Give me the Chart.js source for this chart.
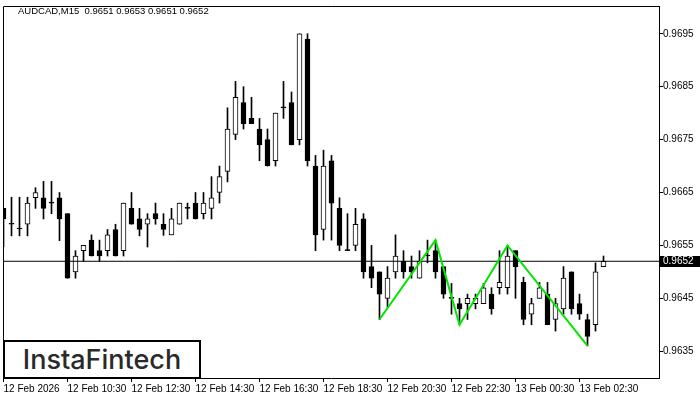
<!DOCTYPE html>
<html>
<head>
<meta charset="utf-8">
<script src="https://cdn.jsdelivr.net/npm/chart.js@4/dist/chart.umd.min.js"></script>
<style>
  html, body { margin: 0; padding: 0; background: #fff; }
  #wrap { position: relative; width: 700px; height: 400px; }
  #title {
    position: absolute; left: 18px; top: 5px;
    font: 9.5px "Liberation Sans", Arial, sans-serif; color: #000; white-space: pre;
  }
  #logo {
    position: absolute; left: 3px; top: 340px; width: 194px; height: 35px;
    border: 2px solid #000; background: #fff;
    display: flex; align-items: center; justify-content: center;
    font: 500 27px Inter, "Liberation Sans", sans-serif; color: #2a2a2a;
  }
</style>
</head>
<body>
<div id="wrap">
  <canvas id="candleChart" width="700" height="400"></canvas>
  <div id="title">AUDCAD,M15  0.9651 0.9653 0.9651 0.9652</div>
  <div id="logo">InstaFintech</div>
</div>
<script>
// AUDCAD M15 candles, index 0 = 12 Feb 08:30
const opens = [
  0.9662, 0.9659, 0.96581, 0.9659, 0.9664, 0.9664, 0.9663, 0.9664, 0.9661, 0.9650,
  0.9654, 0.9656, 0.9654, 0.9654, 0.9658, 0.9654, 0.9662, 0.9660, 0.9659, 0.9661,
  0.9659, 0.9657, 0.9659, 0.9662, 0.9663, 0.9661, 0.9662, 0.9665, 0.9669, 0.9676,
  0.9682, 0.9679, 0.9677, 0.9675, 0.9671, 0.9681, 0.9682, 0.9675, 0.9694, 0.9670,
  0.9658, 0.9671, 0.9662, 0.9654, 0.9655, 0.9660, 0.9651, 0.9650, 0.9645, 0.9650,
  0.9652, 0.9651, 0.96488, 0.9653, 0.9654, 0.9651, 0.9645, 0.9644, 0.9644, 0.9644,
  0.9644, 0.96458, 0.9647, 0.9647, 0.9654, 0.9648, 0.9642, 0.9645, 0.96458, 0.9641,
  0.9643, 0.9650, 0.9644, 0.9641, 0.9640, 0.9651
];
const highs = [
  0.9662, 0.96641, 0.96641, 0.96641, 0.96659, 0.96671, 0.96671, 0.9665, 0.9661, 0.9654,
  0.9655, 0.9657, 0.9656, 0.9658, 0.9659, 0.9663, 0.9665, 0.9662, 0.9661, 0.9663,
  0.9661, 0.9662, 0.9663, 0.9663, 0.9665, 0.9665, 0.9668, 0.9670, 0.9681, 0.9686,
  0.9685, 0.9683, 0.9679, 0.9677, 0.9680, 0.9686, 0.9684, 0.9695, 0.9695, 0.9672,
  0.9673, 0.9672, 0.9664, 0.9661, 0.9662, 0.9661, 0.9655, 0.9650, 0.9651, 0.9657,
  0.9654, 0.9653, 0.9654, 0.9656, 0.9656, 0.9651, 0.96478, 0.9645, 0.96458, 0.96458,
  0.96478, 0.9647, 0.9654, 0.9655, 0.9654, 0.9649, 0.9645, 0.9648, 0.9648, 0.9645,
  0.9651, 0.9650, 0.96458, 0.9642, 0.96517, 0.9653
];
const lows = [
  0.96547, 0.96568, 0.96568, 0.96568, 0.9662, 0.9660, 0.9661, 0.96559, 0.96488, 0.96488,
  0.9652, 0.9653, 0.9652, 0.9653, 0.9653, 0.9653, 0.9659, 0.96568, 0.96547, 0.9659,
  0.96569, 0.9657, 0.9659, 0.9660, 0.9660, 0.9660, 0.9660, 0.9663, 0.9667, 0.9675,
  0.9677, 0.9678, 0.9671, 0.9670, 0.9670, 0.9679, 0.9674, 0.9674, 0.9670, 0.9654,
  0.9656, 0.9656, 0.9654, 0.9654, 0.9654, 0.96488, 0.9647, 0.9641, 0.96433, 0.96488,
  0.96488, 0.96488, 0.96488, 0.96517, 0.96488, 0.9645, 0.9642, 0.9640, 0.9641, 0.9643,
  0.9644, 0.9642, 0.96458, 0.96458, 0.9645, 0.9640, 0.9640, 0.9645, 0.9640, 0.96388,
  0.9642, 0.9642, 0.9641, 0.9636, 0.96388, 0.9651
];
const closes = [
  0.9660, 0.9659, 0.96581, 0.9663, 0.9665, 0.9662, 0.9663, 0.9660, 0.96488, 0.9653,
  0.9655, 0.9653, 0.9653, 0.9657, 0.9653, 0.9663, 0.9659, 0.9658, 0.9660, 0.9660,
  0.9658, 0.9660, 0.9663, 0.9662, 0.9660, 0.9663, 0.9664, 0.9668, 0.9677, 0.9683,
  0.9678, 0.9678, 0.9674, 0.9670, 0.9680, 0.9681, 0.9674, 0.9695, 0.9671, 0.9657,
  0.9670, 0.9663, 0.9655, 0.9654, 0.9659, 0.9650, 0.96488, 0.96458, 0.96488, 0.9653,
  0.9650, 0.9650, 0.9652, 0.9653, 0.9650, 0.96458, 0.9645, 0.9643, 0.9645, 0.9645,
  0.9647, 0.9643, 0.9648, 0.9653, 0.9651, 0.9641, 0.9644, 0.9647, 0.9640, 0.9644,
  0.96488, 0.9643, 0.9642, 0.96378, 0.9650, 0.9652
];

const timeLabels = [
  "12 Feb 2026", "12 Feb 10:30", "12 Feb 12:30", "12 Feb 14:30", "12 Feb 16:30",
  "12 Feb 18:30", "12 Feb 20:30", "12 Feb 22:30", "13 Feb 00:30", "13 Feb 02:30"
];
const timeTickIdx = [0, 8, 16, 24, 32, 40, 48, 56, 64, 72];
const priceTicks = [0.9635, 0.9645, 0.9655, 0.9665, 0.9675, 0.9685, 0.9695];

// triple bottom pattern pivots
const patternIdx = [47, 54, 57, 63, 73];
const patternVals = [lows[47], highs[54], lows[57], highs[63], lows[73]];

const lastClose = closes[closes.length - 1];

const bodies = opens.map((o, i) => ({ x: i, y: [Math.min(o, closes[i]), Math.max(o, closes[i])] }));
const wicks = lows.map((l, i) => ({ x: i, y: [l, highs[i]] }));
const bodyFill = opens.map((o, i) => (closes[i] > o ? "#ffffff" : "#000000"));

// frame on left/top, price tag on the right axis
const framePlugin = {
  id: "frame",
  afterDraw(chart) {
    const { ctx, chartArea: a, scales } = chart;
    ctx.save();
    ctx.strokeStyle = "#000";
    ctx.lineWidth = 1;
    ctx.beginPath();
    ctx.moveTo(a.left + 0.5, a.bottom);
    ctx.lineTo(a.left + 0.5, a.top + 0.5);
    ctx.lineTo(a.right, a.top + 0.5);
    ctx.stroke();

    const y = Math.round(scales.y.getPixelForValue(lastClose));
    ctx.fillStyle = "#000";
    ctx.fillRect(a.right + 1, y - 5, 40, 11);
    ctx.fillStyle = "#fff";
    ctx.font = '10px "Liberation Sans", Arial, sans-serif';
    ctx.textBaseline = "middle";
    ctx.fillText(lastClose.toFixed(4), a.right + 4, y + 0.5);
    ctx.restore();
  }
};

Chart.defaults.font.family = '"Liberation Sans", Arial, sans-serif';
Chart.defaults.font.size = 10;
Chart.defaults.color = "#000";

const ctx = document.getElementById("candleChart").getContext("2d");

new Chart(ctx, {
  type: "bar",
  data: {
    datasets: [
      {
        type: "line",
        data: patternIdx.map((x, k) => ({ x: x, y: patternVals[k] })),
        borderColor: "#00e600",
        borderWidth: 2,
        pointRadius: 0,
        tension: 0,
        order: -2
      },
      {
        type: "line",
        data: [{ x: -1, y: lastClose }, { x: 90, y: lastClose }],
        borderColor: "#000",
        borderWidth: 1,
        pointRadius: 0,
        order: -1
      },
      {
        data: bodies,
        backgroundColor: bodyFill,
        borderColor: "#000",
        borderWidth: 1,
        borderSkipped: false,
        barThickness: 5,
        minBarLength: 1,
        grouped: false,
        order: 0
      },
      {
        data: wicks,
        backgroundColor: "#000",
        borderWidth: 0,
        barThickness: 1,
        grouped: false,
        order: 1
      }
    ]
  },
  options: {
    responsive: false,
    animation: false,
    layout: { padding: { left: 3, top: 3, right: 0, bottom: 0 } },
    plugins: { legend: { display: false }, tooltip: { enabled: false } },
    scales: {
      x: {
        type: "linear",
        min: -0.0625,
        max: 81.9375,
        offset: false,
        afterBuildTicks: (s) => { s.ticks = timeTickIdx.map((v) => ({ value: v })); },
        afterFit: (s) => { s.height = 22; },
        ticks: {
          autoSkip: false,
          maxRotation: 0,
          align: "start",
          padding: 1,
          callback: (v, i) => timeLabels[i]
        },
        grid: { drawOnChartArea: false, tickLength: 4, tickColor: "#000", offset: false },
        border: { color: "#000", width: 1 }
      },
      y: {
        type: "linear",
        position: "right",
        min: 0.96299375,
        max: 0.970025,
        afterBuildTicks: (s) => { s.ticks = priceTicks.map((v) => ({ value: v })); },
        afterFit: (s) => { s.width = 41; },
        ticks: { padding: 0, callback: (v) => v.toFixed(4) },
        grid: { drawOnChartArea: false, tickLength: 4, tickColor: "#000" },
        border: { color: "#000", width: 1 }
      }
    }
  },
  plugins: [framePlugin]
});
</script>
</body>
</html>
